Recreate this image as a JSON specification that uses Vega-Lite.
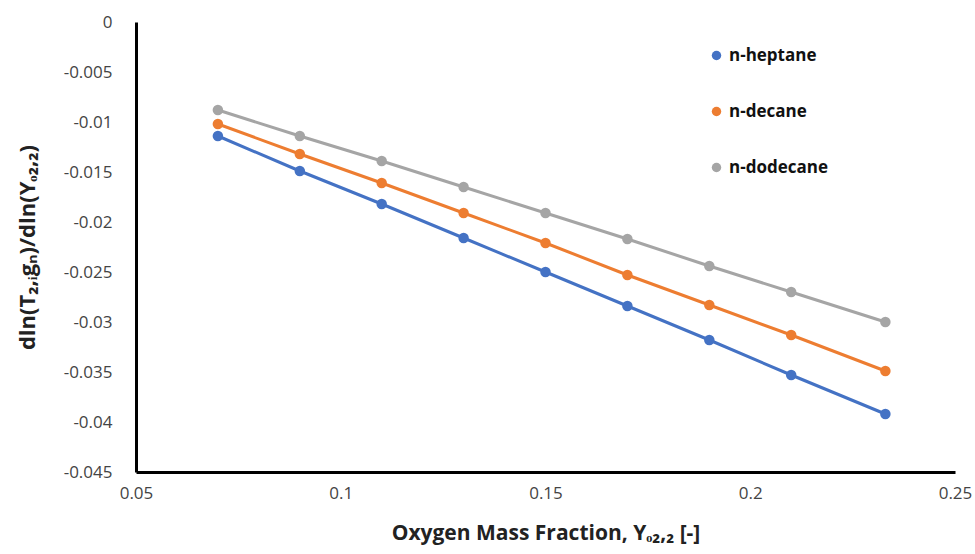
{
  "$schema": "https://vega.github.io/schema/vega-lite/v6.json",
  "width": 819,
  "height": 450,
  "autosize": {"type": "none"},
  "padding": {"left": 136, "top": 22, "right": 20, "bottom": 82},
  "background": "white",
  "config": {"view": {"stroke": null}, "font": "Open Sans"},
  "data": {"values": [
    {"x": 0.07, "y": -0.0114, "fuel": "n-heptane"},
    {"x": 0.09, "y": -0.0149, "fuel": "n-heptane"},
    {"x": 0.11, "y": -0.0182, "fuel": "n-heptane"},
    {"x": 0.13, "y": -0.0216, "fuel": "n-heptane"},
    {"x": 0.15, "y": -0.0250, "fuel": "n-heptane"},
    {"x": 0.17, "y": -0.0284, "fuel": "n-heptane"},
    {"x": 0.19, "y": -0.0318, "fuel": "n-heptane"},
    {"x": 0.21, "y": -0.0353, "fuel": "n-heptane"},
    {"x": 0.233, "y": -0.0392, "fuel": "n-heptane"},
    {"x": 0.07, "y": -0.0102, "fuel": "n-decane"},
    {"x": 0.09, "y": -0.0132, "fuel": "n-decane"},
    {"x": 0.11, "y": -0.0161, "fuel": "n-decane"},
    {"x": 0.13, "y": -0.0191, "fuel": "n-decane"},
    {"x": 0.15, "y": -0.0221, "fuel": "n-decane"},
    {"x": 0.17, "y": -0.0253, "fuel": "n-decane"},
    {"x": 0.19, "y": -0.0283, "fuel": "n-decane"},
    {"x": 0.21, "y": -0.0313, "fuel": "n-decane"},
    {"x": 0.233, "y": -0.0349, "fuel": "n-decane"},
    {"x": 0.07, "y": -0.0088, "fuel": "n-dodecane"},
    {"x": 0.09, "y": -0.0114, "fuel": "n-dodecane"},
    {"x": 0.11, "y": -0.0139, "fuel": "n-dodecane"},
    {"x": 0.13, "y": -0.0165, "fuel": "n-dodecane"},
    {"x": 0.15, "y": -0.0191, "fuel": "n-dodecane"},
    {"x": 0.17, "y": -0.0217, "fuel": "n-dodecane"},
    {"x": 0.19, "y": -0.0244, "fuel": "n-dodecane"},
    {"x": 0.21, "y": -0.0270, "fuel": "n-dodecane"},
    {"x": 0.233, "y": -0.0300, "fuel": "n-dodecane"}
  ]},
  "encoding": {
    "x": {
      "field": "x", "type": "quantitative",
      "scale": {"domain": [0.05, 0.25], "nice": false, "zero": false},
      "axis": {
        "values": [0.05, 0.1, 0.15, 0.2, 0.25],
        "labelExpr": "toString(datum.value)",
        "title": "Oxygen Mass Fraction, Yₒ₂,₂ [-]",
        "titleFontSize": 21, "titleFontWeight": "bold", "titleColor": "#222222",
        "titlePadding": 21,
        "labelFontSize": 17, "labelColor": "#444444", "labelPadding": 13,
        "ticks": false, "grid": false,
        "domainColor": "black", "domainWidth": 3,
        "labelFlush": false
      }
    },
    "y": {
      "field": "y", "type": "quantitative",
      "scale": {"domain": [-0.045, 0], "nice": false, "zero": false},
      "axis": {
        "values": [0, -0.005, -0.01, -0.015, -0.02, -0.025, -0.03, -0.035, -0.04, -0.045],
        "labelExpr": "toString(datum.value)",
        "title": "dln(T₂,ᵢgₙ)/dln(Yₒ₂,₂)",
        "titleFontSize": 22, "titleFontWeight": "bold", "titleColor": "#222222",
        "titlePadding": 24,
        "labelFontSize": 17, "labelColor": "#444444", "labelPadding": 24,
        "ticks": false, "grid": false,
        "domainColor": "black", "domainWidth": 3,
        "labelFlush": false
      }
    },
    "color": {
      "field": "fuel", "type": "nominal",
      "scale": {"domain": ["n-heptane", "n-decane", "n-dodecane"], "range": ["#4472C4", "#ED7D31", "#A5A5A5"]},
      "legend": {
        "title": null,
        "orient": "none",
        "legendX": 572,
        "legendY": 25,
        "symbolType": "circle",
        "symbolSize": 90,
        "symbolStrokeWidth": 0,
        "labelFontSize": 17,
        "labelFontWeight": "bold",
        "labelColor": "#111111",
        "rowPadding": 38,
        "labelOffset": 4
      }
    }
  },
  "layer": [
    {"mark": {"type": "line", "strokeWidth": 3}},
    {"mark": {"type": "circle", "size": 110, "opacity": 1}}
  ]
}
